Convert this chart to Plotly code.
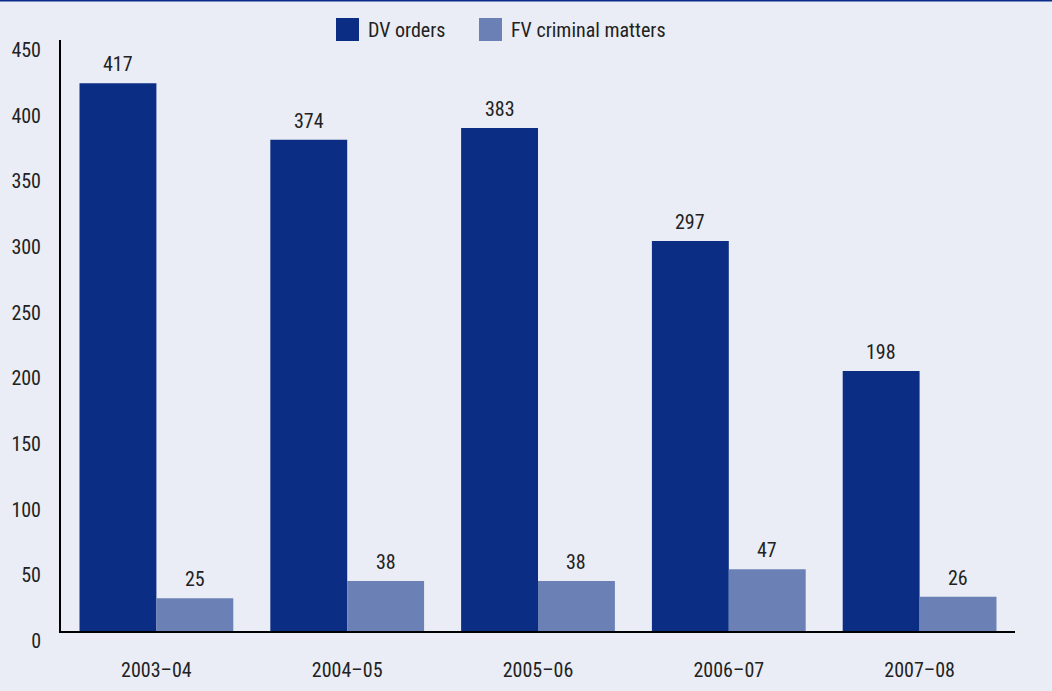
import plotly.graph_objects as go

years = ["2003–04", "2004–05", "2005–06", "2006–07", "2007–08"]
dv_orders = [417, 374, 383, 297, 198]
fv_criminal = [25, 38, 38, 47, 26]
y_ticks = [0, 50, 100, 150, 200, 250, 300, 350, 400, 450]

DV_COLOR = "#0b2e84"
FV_COLOR = "#6b80b5"
BG = "#eaedf5"
TEXT = "#222222"
FONT = "Liberation Sans Narrow, Roboto Condensed, Arial Narrow, sans-serif"
FS = 20

W, H = 1052, 691
L, R, T, B = 61, 37, 40, 60
PW, PH = W - L - R, H - T - B

fig = go.Figure()
fig.add_trace(go.Bar(name="DV orders", x=years, y=dv_orders,
                     marker=dict(color=DV_COLOR, line=dict(width=0))))
fig.add_trace(go.Bar(name="FV criminal matters", x=years, y=fv_criminal,
                     marker=dict(color=FV_COLOR, line=dict(width=0))))


def px_x(x):
    return (x - L) / PW


def px_y(y):
    return (H - B - y) / PH


shapes = [
    # top rule across the full width
    dict(type="line", xref="paper", yref="paper", x0=px_x(0), x1=px_x(W), y0=px_y(0.5), y1=px_y(0.5),
         line=dict(color="#0a2d8a", width=2)),
]
annotations = []

# value labels above each bar (bars in a group sit half a bar width either side of the category)
bar_half = PW / len(years) * (1 - 0.194) / 4
for series, shift in ((dv_orders, -bar_half), (fv_criminal, bar_half)):
    for cat, val in zip(years, series):
        annotations.append(dict(x=cat, y=val, xref="x", yref="y", text=str(val), showarrow=False,
                                xshift=shift, yanchor="bottom", yshift=5,
                                font=dict(size=FS, color=TEXT, family=FONT)))

# custom legend: large swatches with labels
legend_items = [(336, "DV orders", DV_COLOR), (479, "FV criminal matters", FV_COLOR)]
for x0, label, col in legend_items:
    shapes.append(dict(type="rect", xref="paper", yref="paper",
                       x0=px_x(x0), x1=px_x(x0 + 23), y0=px_y(41), y1=px_y(18),
                       fillcolor=col, line=dict(width=0)))
    annotations.append(dict(xref="paper", yref="paper", x=px_x(x0 + 30), y=px_y(29.5),
                            text=label, showarrow=False, xanchor="left", yanchor="middle",
                            font=dict(size=FS, color=TEXT, family=FONT)))

fig.update_layout(
    width=W, height=H,
    margin=dict(l=L, r=R, t=T, b=B),
    paper_bgcolor=BG, plot_bgcolor=BG,
    barmode="group", bargap=0.194, bargroupgap=0,
    showlegend=False,
    font=dict(family=FONT, size=FS, color=TEXT),
    shapes=shapes, annotations=annotations,
)
fig.update_xaxes(showline=True, linecolor="black", linewidth=2, showgrid=False, automargin=False,
                 ticks="", ticklabelstandoff=20, tickfont=dict(size=FS, color=TEXT, family=FONT))
fig.update_yaxes(range=[0, 450], tickvals=y_ticks, showline=True, linecolor="black", linewidth=2,
                 showgrid=False, zeroline=False, ticks="", ticklabelshift=10, ticklabelstandoff=14,
                 automargin=False, tickfont=dict(size=FS, color=TEXT, family=FONT))

fig.write_html("out.html")
